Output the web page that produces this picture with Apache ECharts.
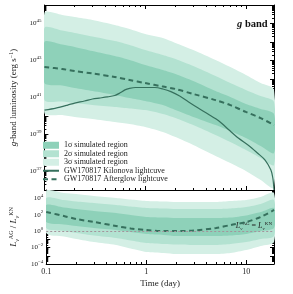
<!DOCTYPE html>
<html><head><meta charset="utf-8">
<script src="https://cdn.jsdelivr.net/npm/echarts@6/dist/echarts.min.js"></script>
<style>html,body{margin:0;padding:0;background:#fff}#c{width:293px;height:294px}</style>
</head><body><div id="c"></div>
<script>
// ---- data (log10 values) ----
const bandTimes = [0.1,0.15,0.2,0.3,0.5,0.7,1,1.5,2,3,5,7,10,14,19];
// top panel: log10 luminosity (erg/s)
const sig3UpperLogL = [45.57,45.46,45.35,45.19,44.92,44.70,44.43,44.22,43.95,43.57,43.03,42.65,42.22,41.78,41.41];
const sig2UpperLogL = [44.76,44.62,44.49,44.30,44.05,43.84,43.57,43.30,43.08,42.70,42.16,41.78,41.41,41.08,40.76];
const sig1UpperLogL = [44.00,43.86,43.73,43.51,43.24,43.03,42.76,42.49,42.27,41.89,41.35,41.03,40.65,40.38,40.11];
const sig1LowerLogL = [41.78,41.65,41.51,41.35,41.14,40.97,40.81,40.59,40.32,39.95,39.51,39.19,38.81,38.38,38.00];
const sig2LowerLogL = [40.86,40.78,40.70,40.59,40.49,40.41,40.32,40.11,39.89,39.51,38.97,38.59,38.16,37.73,37.35];
const sig3LowerLogL = [40.16,40.05,39.95,39.84,39.68,39.57,39.41,39.14,38.86,38.43,37.84,37.46,37.03,36.54,36.11];
const afterglowLogL = [42.65,42.54,42.43,42.30,42.11,41.95,41.78,41.59,41.46,41.19,40.86,40.59,40.22,39.89,39.51];
const kilonovaTimes = [0.1,0.13,0.17,0.2,0.25,0.3,0.35,0.42,0.5,0.56,0.63,0.7,0.8,1.0,1.25,1.5,1.8,2.2,2.7,3.36,4.2,5.4,6.8,8.4,10.8,13,15.5,17.7,18.5,19];
const kilonovaLogL = [40.32,40.43,40.59,40.70,40.81,40.92,40.97,41.03,41.11,41.24,41.41,41.49,41.54,41.54,41.54,41.46,41.32,41.08,40.76,40.43,40.11,39.73,39.24,38.81,38.38,38.00,37.62,37.08,36.65,36.0];
// bottom panel: log10 ratio L_AG / L_KN
const r3UpperLog = [4.88,4.64,4.51,4.27,4.03,3.84,3.66,3.60,3.54,3.54,3.54,3.66,3.78,4.15,4.64];
const r2UpperLog = [4.03,3.78,3.60,3.42,3.18,2.99,2.81,2.75,2.69,2.69,2.69,2.75,2.93,3.30,3.78];
const r1UpperLog = [3.18,2.87,2.69,2.45,2.20,1.96,1.72,1.65,1.59,1.59,1.59,1.65,1.90,2.32,2.81];
const r1LowerLog = [1.11,0.80,0.62,0.38,0.13,-0.11,-0.35,-0.47,-0.60,-0.60,-0.60,-0.54,-0.35,0.01,0.38];
const r2LowerLog = [0.38,0.01,-0.23,-0.54,-0.84,-1.14,-1.45,-1.57,-1.63,-1.69,-1.69,-1.57,-1.33,-0.96,-0.60];
const r3LowerLog = [-0.23,-0.66,-0.96,-1.33,-1.69,-2.12,-2.54,-2.66,-2.79,-2.79,-2.79,-2.66,-2.30,-1.81,-1.33];
const ratioLog = [2.32,1.84,1.47,1.11,0.62,0.32,0.13,0.01,0.01,0.07,0.38,0.74,1.11,1.72,2.57];
const xTickLabels = {0.1:'0.1', 1:'1', 10:'10'};

const names = ['1σ simulated region','2σ simulated region','3σ simulated region','GW170817 Kilonova lightcuve','GW170817 Afterglow lightcuve'];
const C1 = '#8ed1b9', C2 = '#b3e2d1', C3 = '#d4efe5', LINE = '#36705d';
const SERIF = '"Liberation Serif","DejaVu Serif",serif';

function pairs(ts, logs){ return ts.map((t,i)=>[t, Math.pow(10, logs[i])]); }
function band(name, color, up, lo, xi, yi){
  const data = bandTimes.map((t,i)=>[t, Math.pow(10,up[i]), Math.pow(10,lo[i])]);
  return {
    type:'custom', name: name, xAxisIndex: xi, yAxisIndex: yi, clip: true, silent: true,
    itemStyle:{color: color}, encode:{x:0, y:[1,2]}, data: data, z: 1,
    renderItem: function(params, api){
      if (params.dataIndex !== 0) return null;
      const pts = [];
      for (let i=0;i<data.length;i++) pts.push(api.coord([data[i][0], data[i][1]]));
      for (let i=data.length-1;i>=0;i--) pts.push(api.coord([data[i][0], data[i][2]]));
      return {type:'polygon', shape:{points: pts, smooth: 0.25}, style:{fill: color}};
    }
  };
}
const rich = {
  b:{fontFamily:SERIF, fontSize:7, lineHeight:10, color:'#222'},
  s:{fontFamily:SERIF, fontSize:5, lineHeight:3, verticalAlign:'top', color:'#222'}
};
function expFmt(parity){
  return function(v){
    const e = Math.round(Math.log10(v));
    if (Math.abs(e % 2) !== parity) return '';
    return '{b|10}{s|' + (e<0 ? '−'+(-e) : e) + '}';
  };
}
function xAx(grid, pos, labels){
  return {
    type:'log', logBase:10, gridIndex:grid, position:pos, min:0.1, max:19,
    axisLine:{show:true, onZero:false, lineStyle:{color:'#000', width:1}},
    axisTick:{show:true, inside:true, length:4, lineStyle:{color:'#000'}},
    minorTick:{show:true, splitNumber:9, length:2, lineStyle:{color:'#000'}},
    splitLine:{show:false}, minorSplitLine:{show:false},
    axisLabel:{show:labels, margin:4, fontFamily:SERIF, fontSize:8, color:'#222',
      formatter: v => xTickLabels[Math.round(v*10)/10] || ''},
    name: labels ? 'Time (day)' : '', nameLocation:'middle', nameGap:15,
    nameTextStyle:{fontFamily:SERIF, fontSize:9, color:'#222'}
  };
}
function yAx(grid, pos, min, max, parity, labels, name){
  return {
    type:'log', logBase:10, gridIndex:grid, position:pos, min:min, max:max, interval:1,
    axisLine:{show:true, onZero:false, lineStyle:{color:'#000', width:1}},
    axisTick:{show:true, inside:true, length:4, lineStyle:{color:'#000'}},
    minorTick:{show:true, splitNumber:9, length:2, lineStyle:{color:'#000'}},
    splitLine:{show:false}, minorSplitLine:{show:false},
    axisLabel:{show:labels, margin:3, formatter: expFmt(parity), rich: rich, hideOverlap:false},
    name: name || '', nameLocation:'middle', nameRotate:90, nameGap:23,
    nameTextStyle: name ? {fontFamily:SERIF, fontSize:9, color:'#222', rich:{
      i:{fontFamily:SERIF, fontStyle:'italic', fontSize:9, lineHeight:12, color:'#222'},
      n:{fontFamily:SERIF, fontSize:9, lineHeight:12, color:'#222'},
      s:{fontFamily:SERIF, fontSize:6, lineHeight:4, verticalAlign:'top', color:'#222'},
      d:{fontFamily:SERIF, fontStyle:'italic', fontSize:6, lineHeight:4, verticalAlign:'bottom', color:'#222'},
      ds:{fontFamily:SERIF, fontSize:6, lineHeight:4, verticalAlign:'top', color:'#222'}
    }} : {}
  };
}
const noSym = {color:'rgba(0,0,0,0)', borderColor:'rgba(0,0,0,0)', borderWidth:0};

const chart = echarts.init(document.getElementById('c'));
chart.setOption({
  animation:false,
  backgroundColor:'#fff',
  grid:[{left:34, top:5, width:240, height:185}, {left:34, top:190, width:240, height:74}],
  title:{text:'{i|g} band', left:232, top:14, textStyle:{fontFamily:SERIF, fontSize:10.5, fontWeight:'bold', color:'#111',
    rich:{i:{fontFamily:SERIF, fontSize:10.5, fontWeight:'bold', fontStyle:'italic', color:'#111'}}}},
  legend:{left:42, top:141, orient:'vertical', itemGap:0, itemWidth:16, itemHeight:7, padding:0,
    textStyle:{fontFamily:SERIF, fontSize:8, lineHeight:8.5, color:'#222'},
    data:[{name:names[0], icon:'rect'},{name:names[1], icon:'rect'},{name:names[2], icon:'rect'},
      {name:names[3], itemStyle:noSym},{name:names[4], itemStyle:noSym}]},
  xAxis:[xAx(0,'bottom',false), xAx(0,'top',false), xAx(1,'bottom',true)],
  yAxis:[
    yAx(0,'left',1e36,1e46,1,true,'{i|g}{n|-band luminosity (erg s}{s|−1}{n|)}'),
    yAx(1,'left',1e-4,1e5,0,true,'{i|L}{d|ν}{ds|AG}{n| / }{i|L}{d|ν}{ds|KN}'),
    yAx(0,'right',1e36,1e46,1,false), yAx(1,'right',1e-4,1e5,0,false)
  ],
  series:[
    band(names[2], C3, sig3UpperLogL, sig3LowerLogL, 0, 0),
    band(names[1], C2, sig2UpperLogL, sig2LowerLogL, 0, 0),
    band(names[0], C1, sig1UpperLogL, sig1LowerLogL, 0, 0),
    band(names[2], C3, r3UpperLog, r3LowerLog, 2, 1),
    band(names[1], C2, r2UpperLog, r2LowerLog, 2, 1),
    band(names[0], C1, r1UpperLog, r1LowerLog, 2, 1),
    {type:'line', name:names[3], xAxisIndex:0, yAxisIndex:0, data:pairs(kilonovaTimes,kilonovaLogL),
      symbol:'none', smooth:0.3, z:3, lineStyle:{color:LINE, width:1.2}, itemStyle:{color:LINE}},
    {type:'line', name:names[4], xAxisIndex:0, yAxisIndex:0, data:pairs(bandTimes,afterglowLogL),
      symbol:'none', smooth:0.3, z:3, lineStyle:{color:LINE, width:2, type:[5,3.5]}, itemStyle:{color:LINE}},
    {type:'line', name:'ratio', xAxisIndex:2, yAxisIndex:1, data:pairs(bandTimes,ratioLog),
      symbol:'none', smooth:0.3, z:3, lineStyle:{color:LINE, width:2, type:[5,3.5]}, itemStyle:{color:LINE},
      markLine:{silent:true, symbol:'none', data:[{yAxis:1}], lineStyle:{type:[2,2], color:'#a4939c', width:1.2},
        label:{show:true, position:'insideEndTop', distance:[2,0], formatter:'{i|L}{d|ν}{ds|AG}{n| = }{i|L}{d|ν}{ds|KN}',
          rich:{
            i:{fontFamily:SERIF, fontStyle:'italic', fontSize:8, lineHeight:10, color:'#222'},
            n:{fontFamily:SERIF, fontSize:8, lineHeight:10, color:'#222'},
            d:{fontFamily:SERIF, fontStyle:'italic', fontSize:5, lineHeight:3, verticalAlign:'bottom', color:'#222'},
            ds:{fontFamily:SERIF, fontSize:5, lineHeight:3, verticalAlign:'top', color:'#222'}
          }}}}
  ]
});
</script></body></html>
